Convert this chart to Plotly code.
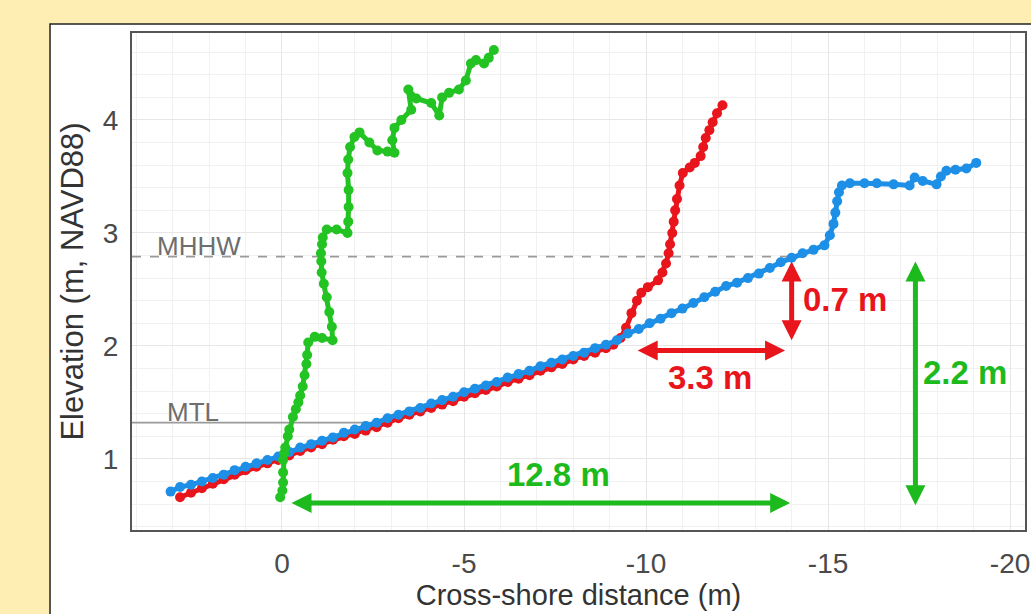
import plotly.graph_objects as go

# ---- data ----
red_x = [2.8, 2.5, 2.2, 1.9, 1.6, 1.3, 1.0, 0.7, 0.4, 0.1, -0.2, -0.5, -0.8, -1.1, -1.4, -1.7, -2.0,
         -2.3, -2.6, -2.9, -3.2, -3.5, -3.8, -4.1, -4.4, -4.7, -5.0, -5.3, -5.6, -5.9, -6.2, -6.5,
         -6.8, -7.1, -7.4, -7.7, -8.0, -8.3, -8.6, -8.9, -9.1, -9.3, -9.45, -9.6, -9.75, -9.87,
         -10.05, -10.33, -10.45, -10.55, -10.62, -10.66, -10.72, -10.76, -10.8, -10.85, -10.92,
         -11.01, -11.2, -11.34, -11.5, -11.57, -11.64, -11.74, -11.83, -11.95, -12.1]
red_y = [0.66, 0.70, 0.74, 0.78, 0.82, 0.86, 0.90, 0.93, 0.96, 0.99, 1.03, 1.07, 1.10, 1.13, 1.17, 1.20,
         1.22, 1.25, 1.28, 1.32, 1.36, 1.39, 1.42, 1.45, 1.48, 1.51, 1.55, 1.58, 1.61, 1.64, 1.68, 1.71,
         1.74, 1.78, 1.81, 1.84, 1.88, 1.91, 1.94, 1.98, 2.01, 2.07, 2.16, 2.29, 2.40, 2.47,
         2.52, 2.58, 2.65, 2.73, 2.82, 2.90, 3.00, 3.10, 3.20, 3.30, 3.42,
         3.53, 3.58, 3.62, 3.68, 3.76, 3.84, 3.91, 3.98, 4.06, 4.13]

blue_x = [3.06, 2.8, 2.5, 2.2, 1.9, 1.6, 1.3, 1.0, 0.7, 0.4, 0.1, -0.2, -0.5, -0.8, -1.1, -1.4, -1.7,
          -2.0, -2.3, -2.6, -2.9, -3.2, -3.5, -3.8, -4.1, -4.4, -4.7, -5.0, -5.3, -5.6, -5.9, -6.2,
          -6.5, -6.8, -7.1, -7.4, -7.7, -8.0, -8.3, -8.6, -8.9, -9.2, -9.5, -9.8, -10.1, -10.4,
          -10.7, -11.0, -11.3, -11.6, -11.9, -12.2, -12.5, -12.8, -13.1, -13.4, -13.7, -14.0, -14.3,
          -14.6, -14.9, -15.05, -15.15, -15.2, -15.25, -15.3, -15.38, -15.6, -16.0, -16.34, -16.8,
          -17.24, -17.38, -17.6, -17.98, -18.1, -18.25, -18.5, -18.8, -19.07]
blue_y = [0.71, 0.75, 0.77, 0.80, 0.83, 0.86, 0.90, 0.93, 0.96, 0.99, 1.02, 1.06, 1.10, 1.13, 1.16, 1.19,
          1.23, 1.26, 1.29, 1.32, 1.36, 1.39, 1.42, 1.45, 1.49, 1.52, 1.55, 1.59, 1.62, 1.65, 1.68, 1.72,
          1.75, 1.78, 1.82, 1.85, 1.88, 1.91, 1.94, 1.98, 2.01, 2.05, 2.11, 2.15, 2.20, 2.24,
          2.29, 2.33, 2.38, 2.43, 2.48, 2.53, 2.56, 2.60, 2.64, 2.69, 2.74, 2.78, 2.82,
          2.85, 2.89, 2.98, 3.08, 3.18, 3.28, 3.36, 3.42, 3.44, 3.44, 3.44, 3.43,
          3.42, 3.49, 3.46, 3.43, 3.50, 3.55, 3.56, 3.57, 3.62]

green_x = [0.05, -0.01, -0.03, -0.03, -0.03, -0.06, -0.09, -0.16, -0.2, -0.3, -0.38, -0.45, -0.5, -0.57,
           -0.62, -0.67, -0.69, -0.72, -0.9, -1.1, -1.39, -1.37, -1.3, -1.23, -1.15, -1.09, -1.08, -1.07,
           -1.1, -1.12, -1.23, -1.5, -1.8, -1.82, -1.83, -1.83, -1.8, -1.82, -1.87, -1.99, -2.13, -2.4,
           -2.62, -2.9, -3.09, -3.03, -3.09, -3.28, -3.55, -3.47, -3.69, -4.1, -4.32, -4.4, -4.59,
           -4.86, -5.05, -5.19, -5.33, -5.55, -5.68, -5.82]
green_y = [0.66, 0.72, 0.79, 0.88, 0.99, 1.05, 1.10, 1.20, 1.26, 1.37, 1.44, 1.50, 1.56, 1.64,
           1.74, 1.84, 1.92, 2.03, 2.08, 2.07, 2.05, 2.17, 2.30, 2.43, 2.55, 2.65, 2.75, 2.82,
           2.90, 2.96, 3.03, 3.03, 3.00, 3.10, 3.23, 3.38, 3.53, 3.65, 3.76, 3.85, 3.89, 3.80,
           3.73, 3.72, 3.71, 3.82, 3.93, 4.00, 4.09, 4.27, 4.19, 4.15, 4.04, 4.20, 4.24,
           4.27, 4.35, 4.50, 4.53, 4.50, 4.55, 4.62]

mhhw_level = 2.79
mtl_level = 1.32
mhhw_end_x = -13.96
mtl_end_x = -2.6
x_left = 4.12

x_ticks = [0, -5, -10, -15, -20]
y_ticks = [1, 2, 3, 4]

# annotation arrows: (x_from, y_from, x_to, y_to, colour)
arrows = [
    (-0.22, 0.61, -13.96, 0.61, "green"),
    (-9.73, 1.96, -13.82, 1.96, "red"),
    (-14.0, 2.76, -14.0, 2.05, "red"),
    (-17.4, 2.76, -17.4, 0.59, "green"),
]
labels = [
    ("12.8 m", -7.6, 0.86, "center", "green"),
    ("3.3 m", -11.76, 1.72, "center", "red"),
    ("0.7 m", -14.25, 2.41, "left", "red"),
    ("2.2 m", -17.55, 1.76, "left", "green"),
]

RED = "#E8161C"
BLUE = "#1E8FE6"
GREEN = "#22C322"
ANN = {"green": "#1DBA1D", "red": "#E8161C"}

fig = go.Figure()

# tide level lines
fig.add_trace(go.Scatter(x=[x_left, mhhw_end_x], y=[mhhw_level, mhhw_level], mode="lines",
                         line=dict(color="#9a9a9a", width=1.8, dash="dash"), hoverinfo="skip"))
fig.add_trace(go.Scatter(x=[x_left, mtl_end_x], y=[mtl_level, mtl_level], mode="lines",
                         line=dict(color="#9a9a9a", width=1.8), hoverinfo="skip"))

for xs, ys, c in [(red_x, red_y, RED), (blue_x, blue_y, BLUE), (green_x, green_y, GREEN)]:
    fig.add_trace(go.Scatter(x=xs, y=ys, mode="lines+markers",
                             line=dict(color=c, width=5),
                             marker=dict(color=c, size=10)))

annotations = []
annotations.append(dict(x=3.49, y=mhhw_level, xref="x", yref="y", text="MHHW", showarrow=False,
                        xanchor="left", yanchor="bottom", yshift=-6,
                        font=dict(family="Liberation Sans, Arial", size=26, color="#6e6e6e")))
annotations.append(dict(x=3.2, y=mtl_level, xref="x", yref="y", text="MTL", showarrow=False,
                        xanchor="left", yanchor="bottom", yshift=-6,
                        font=dict(family="Liberation Sans, Arial", size=26, color="#6e6e6e")))
for x0, y0, x1, y1, col in arrows:
    annotations.append(dict(x=x1, y=y1, ax=x0, ay=y0, xref="x", yref="y", axref="x", ayref="y",
                            text="", showarrow=True, arrowside="end+start",
                            arrowhead=2, startarrowhead=2, arrowsize=0.8, startarrowsize=0.8,
                            arrowwidth=5, arrowcolor=ANN[col]))
for t, x, y, anc, col in labels:
    annotations.append(dict(x=x, y=y, xref="x", yref="y", text="<b>%s</b>" % t, showarrow=False,
                            xanchor=anc, yanchor="middle",
                            font=dict(family="Liberation Sans, Arial", size=33, color=ANN[col])))

fig.update_layout(
    width=1031, height=614,
    margin=dict(l=132, r=6, t=33, b=84, autoexpand=False),
    paper_bgcolor="#FFEEB4", plot_bgcolor="white",
    showlegend=False,
    annotations=annotations,
    shapes=[dict(type="rect", xref="paper", yref="paper", x0=-0.0918, x1=1.2, y0=-0.3, y1=1.018,
                 fillcolor="white", line=dict(color="#222222", width=1.5), layer="below")],
    font=dict(family="Liberation Sans, Arial"),
)
fig.update_xaxes(range=[x_left, -20.41], tickvals=x_ticks, ticktext=[str(v) for v in x_ticks],
                 automargin=False,
                 showgrid=True, gridcolor="#E6E6E6", gridwidth=1,
                 minor=dict(dtick=1, showgrid=True, gridcolor="#F1F1F1", gridwidth=1),
                 showline=True, mirror=True, linecolor="#555555", linewidth=2,
                 zeroline=False, ticks="", ticklabelstandoff=7,
                 tickfont=dict(size=28, color="#4a4a4a"),
                 title=dict(text="Cross-shore distance (m)", font=dict(size=29, color="#333333"), standoff=6))
fig.update_yaxes(range=[0.37, 4.77], tickvals=y_ticks, ticktext=[str(v) for v in y_ticks],
                 automargin=False,
                 showgrid=True, gridcolor="#E6E6E6", gridwidth=1,
                 minor=dict(dtick=0.2, showgrid=True, gridcolor="#F1F1F1", gridwidth=1),
                 showline=True, mirror=True, linecolor="#555555", linewidth=2,
                 zeroline=False, ticks="", ticklabelstandoff=6,
                 tickfont=dict(size=28, color="#4a4a4a"),
                 title=dict(text="Elevation (m, NAVD88)", font=dict(size=31, color="#333333"), standoff=10))

fig.write_html("out.html", config={"displayModeBar": False},
               post_script="document.body.style.margin='0';document.body.style.overflow='hidden';")
